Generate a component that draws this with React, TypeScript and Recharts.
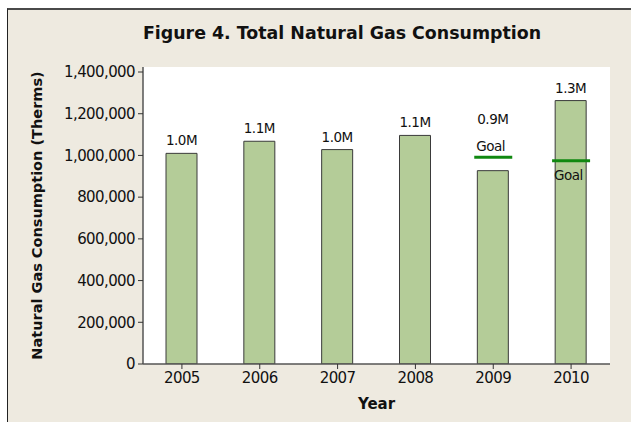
import React from 'react';
import {
  ComposedChart, Bar, Scatter, XAxis, YAxis, CartesianGrid, LabelList,
} from 'recharts';

const years = ['2005', '2006', '2007', '2008', '2009', '2010'];
const consumption = [1010000, 1068000, 1028000, 1096000, 927000, 1263000];
const goals: (number | null)[] = [null, null, null, null, 991000, 975000];
const yTicks = [0, 200000, 400000, 600000, 800000, 1000000, 1200000, 1400000];
const yMax = 1424000;

const data = years.map((year, i) => ({ year, therms: consumption[i], goal: goals[i] }));

const FONT = '"DejaVu Sans", Verdana, sans-serif';
const GOAL_GREEN = '#108810';

const fmtM = (v: number) => `${(v / 1e6).toFixed(1)}M`;
const fmtComma = (v: number) => v.toLocaleString('en-US');

// value label over each bar; pushed above the goal text when goal sits over the bar
const ValueLabel = (props: any) => {
  const { x, y, width, height, value, index } = props;
  const goal = goals[index];
  let cy = y - 13;
  if (goal != null && goal > value) {
    const goalY = y + height - (goal * height) / value;
    cy = goalY - 38;
  }
  return (
    <text x={x + width / 2} y={cy} textAnchor="middle" dominantBaseline="central"
      fontFamily={FONT} fontSize={13.5} letterSpacing={-0.5} fill="#111">
      {fmtM(value)}
    </text>
  );
};

const GoalMark = (props: any) => {
  const { cx, cy, payload } = props;
  if (payload == null || payload.goal == null || !isFinite(cy)) return <g />;
  const above = payload.goal > payload.therms;
  return (
    <g>
      <line x1={cx - 19} x2={cx + 19} y1={cy} y2={cy} stroke={GOAL_GREEN} strokeWidth={3} />
      <text x={cx - 17} y={above ? cy - 11 : cy + 14} dominantBaseline="central"
        fontFamily={FONT} fontSize={13.5} letterSpacing={-0.5} fill="#111">
        Goal
      </text>
    </g>
  );
};

const YTitle = (props: any) => {
  const { viewBox } = props;
  const cx = 37;
  const cy = viewBox.y + viewBox.height / 2;
  return (
    <text x={cx} y={cy} transform={`rotate(-90, ${cx}, ${cy})`} textAnchor="middle"
      dominantBaseline="central" fontFamily={FONT} fontWeight="bold" fontSize={14.5} fill="#111">
      Natural Gas Consumption (Therms)
    </text>
  );
};

const XTitle = (props: any) => {
  const { viewBox } = props;
  const cx = viewBox.x + viewBox.width / 2;
  return (
    <text x={cx} y={404} textAnchor="middle" dominantBaseline="central"
      fontFamily={FONT} fontWeight="bold" fontSize={15} fill="#111">
      Year
    </text>
  );
};

export default function App() {
  return (
    <div style={{ position: 'absolute', left: 0, top: 0, width: 631, height: 422, overflow: 'hidden', background: '#fff' }}>
      <div style={{
        position: 'absolute', left: 7, top: 8, width: 624, height: 414,
        background: '#EEEAE0', borderTop: '2px solid #4a4a4a', borderLeft: '1px solid #222',
      }} />
      <div style={{
        position: 'absolute', left: 0, top: 21, width: 684, textAlign: 'center',
        fontFamily: FONT, fontWeight: 'bold', fontSize: 17.4, lineHeight: '24px', color: '#111',
      }}>
        Figure 4. Total Natural Gas Consumption
      </div>
      <div style={{ position: 'absolute', left: 0, top: 0 }}>
        <ComposedChart width={631} height={422} data={data}
          margin={{ top: 67, right: 21, left: 0, bottom: 0 }}>
          <CartesianGrid horizontal={false} vertical={false} fill="#ffffff" />
          <XAxis dataKey="year" height={58} tickLine={{ stroke: '#333' }} tickSize={5}
            axisLine={{ stroke: '#555', strokeWidth: 1.5 }}
            tick={{ fill: '#111', fontSize: 15, fontFamily: FONT, letterSpacing: -0.6 }} tickMargin={3}
            label={<XTitle />} />
          <XAxis xAxisId="top" dataKey="year" orientation="top" height={0} tick={false} tickLine={false}
            axisLine={{ stroke: '#555', strokeWidth: 1.5 }} />
          <YAxis width={143} domain={[0, yMax]} ticks={yTicks} interval={0} allowDataOverflow
            tickFormatter={fmtComma} tickSize={5} tickMargin={3}
            tickLine={{ stroke: '#333' }} axisLine={{ stroke: '#555', strokeWidth: 1.5 }}
            tick={{ fill: '#111', fontSize: 15, fontFamily: FONT, letterSpacing: -0.6 }}
            label={<YTitle />} />
          <YAxis yAxisId="right" orientation="right" width={0} domain={[0, yMax]} tick={false}
            tickLine={false} axisLine={{ stroke: '#555', strokeWidth: 1.5 }} />
          <Bar dataKey="therms" barSize={31} fill="#B4CC98" stroke="#3a3a3a" strokeWidth={1}
            isAnimationActive={false}>
            <LabelList dataKey="therms" content={<ValueLabel />} />
          </Bar>
          <Scatter dataKey="goal" shape={<GoalMark />} isAnimationActive={false} />
        </ComposedChart>
      </div>
    </div>
  );
}
